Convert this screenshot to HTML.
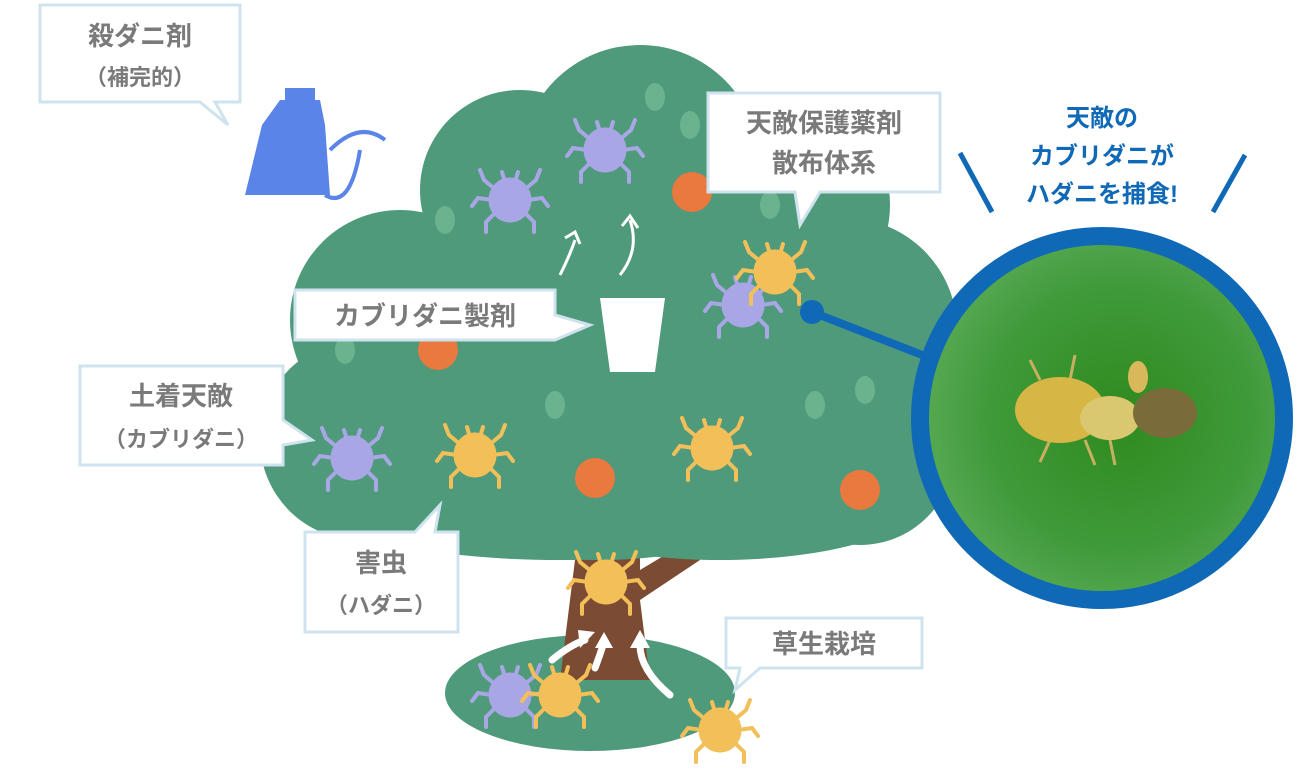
<!DOCTYPE html>
<html><head><meta charset="utf-8"><style>
html,body{margin:0;padding:0;background:#fff;width:1300px;height:774px;overflow:hidden}
svg{display:block}
text{font-family:"Liberation Sans","Noto Sans CJK JP",sans-serif;font-weight:bold}
</style></head><body>
<svg width="1300" height="774" viewBox="0 0 1300 774" xmlns="http://www.w3.org/2000/svg">
<defs>
<radialGradient id="ph" cx="0.55" cy="0.5" r="0.6">
<stop offset="0" stop-color="#2f8a1e"/><stop offset="0.6" stop-color="#3f9a3a"/><stop offset="1" stop-color="#5fae5a"/>
</radialGradient>
<g id="mite">
<g stroke-width="4" fill="none" stroke-linecap="round">
<path d="M-14-10 -26-20 -30-30M14-10 26-20 30-30M-18 0 -32-2 -38 6M18 0 32-2 38 6M-14 12 -24 22 -24 32M14 12 24 22 24 32M-5-18 -8-28M5-18 8-28"/>
</g>
<ellipse cx="0" cy="0" rx="21" ry="22"/>
</g>
</defs>
<!-- ground -->
<ellipse cx="590" cy="693" rx="145" ry="58" fill="#4f9a7b"/>
<!-- trunk -->
<path d="M575 560 L560 680 L650 680 L640 600 L700 560 L690 540 L640 570 L640 540 Z" fill="#7b4b33"/>
<!-- canopy -->
<g fill="#4f9a7b">
<circle cx="640" cy="165" r="120"/>
<circle cx="520" cy="190" r="100"/>
<circle cx="780" cy="205" r="110"/>
<circle cx="400" cy="320" r="110"/>
<circle cx="845" cy="330" r="112"/>
<circle cx="360" cy="440" r="100"/>
<circle cx="860" cy="450" r="95"/>
<ellipse cx="600" cy="400" rx="280" ry="160"/>
<ellipse cx="560" cy="500" rx="250" ry="60"/>
<ellipse cx="720" cy="500" rx="200" ry="60"/>
</g>
<g fill="#6bb28f">
<ellipse cx="655" cy="97" rx="10" ry="14"/><ellipse cx="690" cy="125" rx="10" ry="14"/>
<ellipse cx="770" cy="205" rx="10" ry="14"/><ellipse cx="555" cy="405" rx="10" ry="14"/>
<ellipse cx="815" cy="405" rx="10" ry="14"/><ellipse cx="865" cy="390" rx="10" ry="14"/>
<ellipse cx="445" cy="220" rx="10" ry="14"/><ellipse cx="345" cy="350" rx="10" ry="14"/>
</g>
<g fill="#e9793e">
<circle cx="692" cy="192" r="20"/><circle cx="438" cy="350" r="20"/>
<circle cx="595" cy="478" r="20"/><circle cx="860" cy="490" r="20"/>
</g>
<!-- mites -->
<g fill="#a9a6e6" stroke="#a9a6e6">
<use href="#mite" x="510" y="200"/><use href="#mite" x="605" y="150"/>
<use href="#mite" x="743" y="305"/><use href="#mite" x="352" y="458"/>
<use href="#mite" x="510" y="695"/>
</g>
<g fill="#f2bf58" stroke="#f2bf58">
<use href="#mite" x="775" y="272"/><use href="#mite" x="475" y="455"/>
<use href="#mite" x="712" y="448"/><use href="#mite" x="606" y="582"/>
<use href="#mite" x="560" y="695"/><use href="#mite" x="720" y="730"/>
</g>
<!-- white arrows -->
<g stroke="#fff" stroke-width="7" fill="none" stroke-linecap="round">
<path d="M552 660 Q570 645 585 640"/><path d="M595 668 Q600 655 603 645"/><path d="M670 695 Q640 670 640 645"/>
</g>
<g fill="#fff">
<path d="M595 632 L580 648 L578 630 Z"/><path d="M604 632 L595 648 L613 648 Z"/><path d="M640 630 L630 648 L650 648 Z"/>
</g>
<!-- cup -->
<path d="M600 298 L665 298 L655 372 L610 372 Z" fill="#fff"/>
<g stroke="#fff" stroke-width="3" fill="none"><path d="M560 275 Q570 255 575 240 M565 238 L575 232 L580 244"/><path d="M620 275 Q640 250 630 220 M622 226 L630 216 L638 228"/></g>
<!-- spray bottle -->
<path d="M280 100 L320 100 L325 125 L330 195 L245 195 L262 125 Z" fill="#5b84e8"/>
<rect x="285" y="88" width="30" height="12" fill="#5b84e8"/>
<path d="M330 150 Q360 120 385 140 M325 195 Q350 210 360 150" stroke="#5b84e8" stroke-width="4" fill="none"/>
<!-- callouts -->
<g fill="#fff" stroke="#cfe3ef" stroke-width="3">
<path d="M40 5 H240 V102 H215 L228 125 L200 102 H40 Z"/>
<path d="M708 93 H940 V192 H820 L800 225 L795 192 H708 Z"/>
<path d="M295 290 H555 V315 L590 325 L555 340 H295 Z"/>
<path d="M80 366 H283 V420 L312 440 L283 445 V465 H80 Z"/>
<path d="M305 532 H415 L440 505 L435 532 H458 V632 H305 Z"/>
<path d="M726 618 H922 V668 H760 L735 690 L740 668 H726 Z"/>
</g>
<g fill="#7a7a7a" font-size="26" text-anchor="middle">
<text x="140" y="45">殺ダニ剤</text><text x="140" y="85" font-size="22">（補完的）</text>
<text x="824" y="132">天敵保護薬剤</text><text x="824" y="172">散布体系</text>
<text x="425" y="325">カブリダニ製剤</text>
<text x="181" y="405">土着天敵</text><text x="181" y="447" font-size="22">（カブリダニ）</text>
<text x="381" y="572">害虫</text><text x="381" y="613" font-size="22">（ハダニ）</text>
<text x="824" y="653">草生栽培</text>
</g>
<!-- connector + photo -->
<line x1="812" y1="312" x2="935" y2="360" stroke="#1069b6" stroke-width="8"/>
<circle cx="812" cy="312" r="12" fill="#1069b6"/>
<circle cx="1102" cy="418" r="182" fill="url(#ph)" stroke="#1069b6" stroke-width="18"/>
<g stroke="#c9b060" stroke-width="3" fill="none"><path d="M1040 380 L1030 360 M1070 380 L1075 355 M1050 440 L1040 462 M1085 440 L1095 465 M1110 440 L1115 465"/></g>
<ellipse cx="1060" cy="410" rx="45" ry="33" fill="#d6b645"/>
<ellipse cx="1110" cy="418" rx="30" ry="22" fill="#d9c870"/>
<ellipse cx="1165" cy="413" rx="32" ry="25" fill="#7a6b3a"/>
<ellipse cx="1138" cy="377" rx="10" ry="16" fill="#d8b85a"/>
<g fill="#1069b6" font-size="24" text-anchor="middle">
<text x="1102" y="126">天敵の</text><text x="1102" y="164">カブリダニが</text><text x="1102" y="202">ハダニを捕食!</text>
</g>
<g stroke="#1069b6" stroke-width="5"><line x1="960" y1="153" x2="992" y2="212"/><line x1="1245" y1="155" x2="1213" y2="212"/></g>
</svg>
</body></html>
